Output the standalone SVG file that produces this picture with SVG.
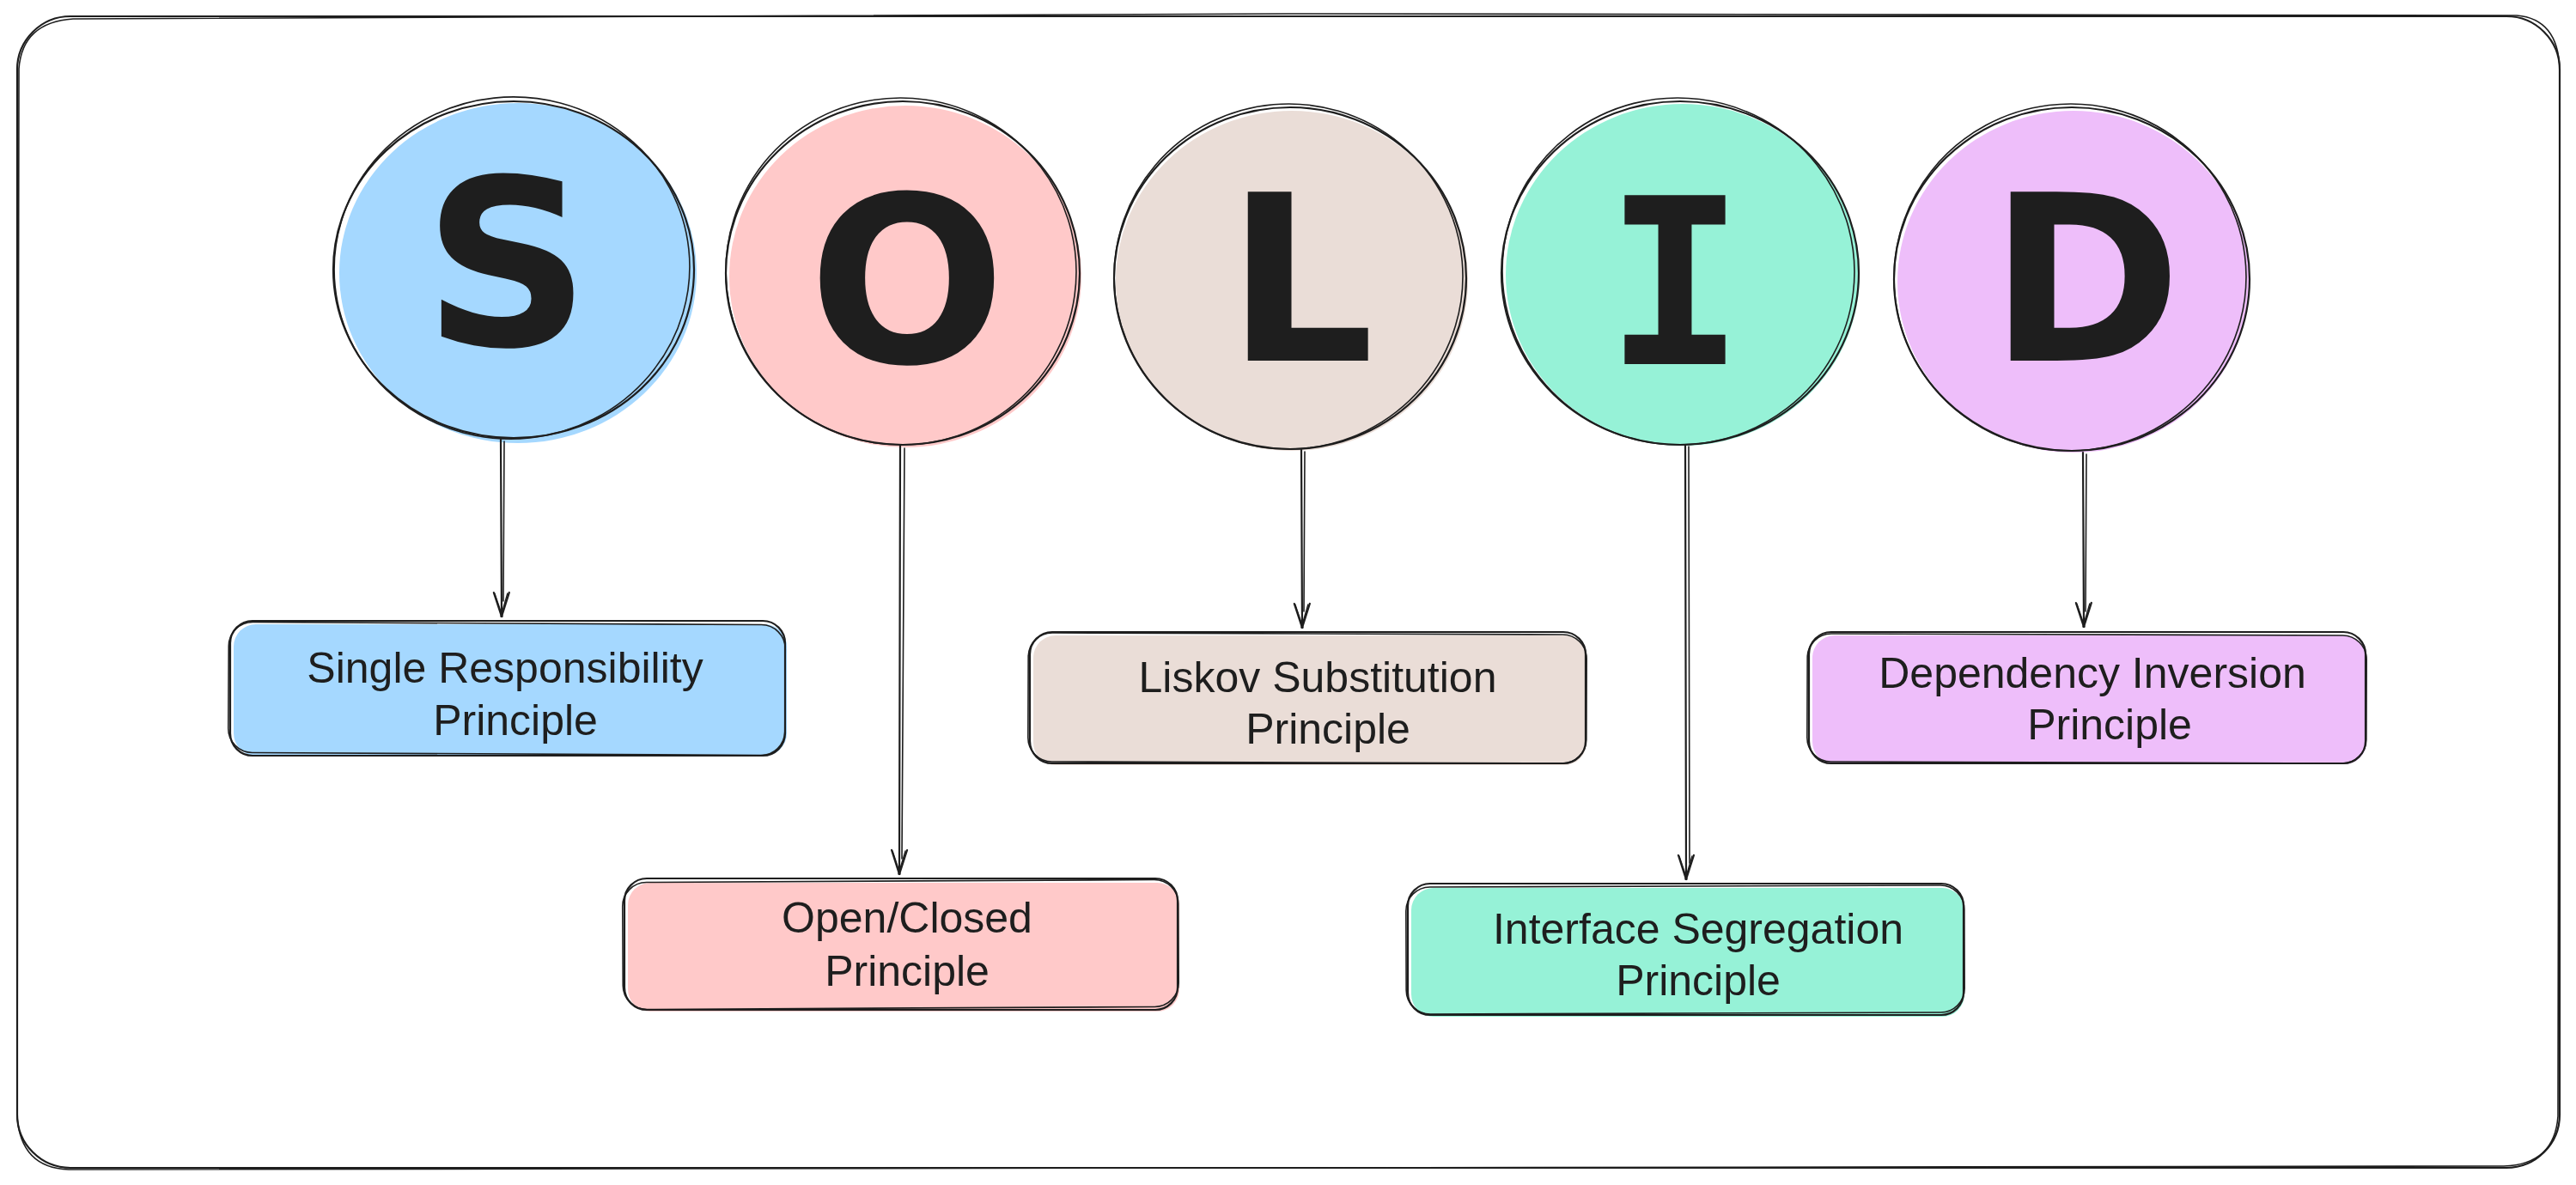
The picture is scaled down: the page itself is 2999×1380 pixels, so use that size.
<svg xmlns="http://www.w3.org/2000/svg" width="2999" height="1380" viewBox="0 0 2999 1380">
<style>
.sk{fill:none;stroke:#1e1e1e;stroke-width:2.2;stroke-linecap:round;stroke-linejoin:round}
.sk2{fill:none;stroke:#1e1e1e;stroke-width:1.6;stroke-linecap:round;stroke-linejoin:round}
.big{font-family:"DejaVu Sans",sans-serif;font-weight:bold;font-size:270px;fill:#1e1e1e;text-anchor:middle}
.mono{font-family:"DejaVu Sans Mono",monospace}
.lbl{font-family:"Liberation Sans",Arial,sans-serif;font-size:50px;fill:#1e1e1e;text-anchor:middle}
.blue{fill:#a5d8ff}.pink{fill:#ffc9c9}.sand{fill:#eaddd7}.teal{fill:#96f2d7}.violet{fill:#eebefa}
</style>
<defs>
<marker id="ah" markerUnits="userSpaceOnUse" markerWidth="40" markerHeight="30" refX="0" refY="0" viewBox="-30 -15 32 30" orient="auto" overflow="visible">
<path d="M -28 -9 L 0 0 L -28 9" fill="none" stroke="#1e1e1e" stroke-width="2.2" stroke-linecap="round" stroke-linejoin="round"/>
<path d="M -27 -7 L 0 1 M -27 8 L 0 -1" fill="none" stroke="#1e1e1e" stroke-width="1.4" stroke-linecap="round"/>
</marker>
</defs>
<rect width="2999" height="1380" fill="#ffffff"/>
<g id="frame">
<rect class="sk" x="20" y="19" width="2960" height="1341" rx="62"/>
<path class="sk2" d="M 22 80 Q 26 26 85 22 L 1500 16 L 2930 18 Q 2978 22 2980 80 L 2978 1300 Q 2974 1356 2915 1358 L 80 1362 Q 24 1360 20 1300 Z"/>
</g>
<g id="circle-s">
<ellipse class="blue" cx="603" cy="318" rx="208" ry="198"/>
<ellipse class="sk" cx="598" cy="314" rx="210" ry="196"/>
<ellipse class="sk2" cx="596" cy="312" rx="207" ry="199" transform="rotate(-6 596 312)"/>
<text class="big" x="590" y="402">S</text>
</g>
<g id="circle-o">
<ellipse class="pink" cx="1054" cy="322" rx="205" ry="199"/>
<ellipse class="sk" cx="1051" cy="318" rx="206" ry="200"/>
<ellipse class="sk2" cx="1049" cy="316" rx="204" ry="202" transform="rotate(8 1049 316)"/>
<text class="big" x="1056" y="422">O</text>
</g>
<g id="circle-l">
<ellipse class="sand" cx="1504" cy="327" rx="205" ry="198"/>
<ellipse class="sk" cx="1502" cy="324" rx="205" ry="199"/>
<ellipse class="sk2" cx="1500" cy="322" rx="203" ry="201" transform="rotate(-5 1500 322)"/>
<text class="big" x="1514" y="420">L</text>
</g>
<g id="circle-i">
<ellipse class="teal" cx="1959" cy="320" rx="206" ry="199"/>
<ellipse class="sk" cx="1956" cy="318" rx="208" ry="200"/>
<ellipse class="sk2" cx="1954" cy="316" rx="205" ry="202" transform="rotate(7 1954 316)"/>
<text class="big mono" x="1950" y="424">I</text>
</g>
<g id="circle-d">
<ellipse class="violet" cx="2414" cy="328" rx="205" ry="199"/>
<ellipse class="sk" cx="2412" cy="325" rx="207" ry="200"/>
<ellipse class="sk2" cx="2410" cy="323" rx="205" ry="202" transform="rotate(-7 2410 323)"/>
<text class="big" x="2428" y="420">D</text>
</g>
<g id="connectors">
<path class="sk" d="M 583 512 L 584 718" marker-end="url(#ah)"/>
<path class="sk2" d="M 587 514 L 586 700"/>
<path class="sk" d="M 1048 518 L 1047 1018" marker-end="url(#ah)"/>
<path class="sk2" d="M 1053 522 L 1050 1000"/>
<path class="sk" d="M 1515 524 L 1516 731" marker-end="url(#ah)"/>
<path class="sk2" d="M 1519 526 L 1518 712"/>
<path class="sk" d="M 1962 518 L 1963 1024" marker-end="url(#ah)"/>
<path class="sk2" d="M 1966 520 L 1967 1005"/>
<path class="sk" d="M 2425 527 L 2426 730" marker-end="url(#ah)"/>
<path class="sk2" d="M 2429 529 L 2428 712"/>
</g>
<g id="box-srp">
<rect class="blue" x="272" y="727" width="644" height="153" rx="26"/>
<rect class="sk" x="268" y="723" width="646" height="157" rx="26"/>
<rect class="sk2" x="266" y="726" width="648" height="152" rx="28" transform="rotate(0.3 590 800)"/>
<text class="lbl" x="588" y="795">Single Responsibility</text>
<text class="lbl" x="600" y="856">Principle</text>
</g>
<g id="box-ocp">
<rect class="pink" x="731" y="1028" width="642" height="150" rx="26"/>
<rect class="sk" x="727" y="1023" width="644" height="153" rx="26"/>
<rect class="sk2" x="725" y="1026" width="647" height="148" rx="28" transform="rotate(-0.3 1049 1100)"/>
<text class="lbl" x="1056" y="1086">Open/Closed</text>
<text class="lbl" x="1056" y="1148">Principle</text>
</g>
<g id="box-lsp">
<rect class="sand" x="1203" y="740" width="644" height="151" rx="26"/>
<rect class="sk" x="1199" y="736" width="647" height="153" rx="26"/>
<rect class="sk2" x="1197" y="738" width="650" height="150" rx="28" transform="rotate(0.2 1522 812)"/>
<text class="lbl" x="1534" y="806">Liskov Substitution</text>
<text class="lbl" x="1546" y="866">Principle</text>
</g>
<g id="box-isp">
<rect class="teal" x="1643" y="1034" width="644" height="150" rx="26"/>
<rect class="sk" x="1639" y="1029" width="647" height="153" rx="26"/>
<rect class="sk2" x="1637" y="1032" width="650" height="148" rx="28" transform="rotate(-0.2 1962 1105)"/>
<text class="lbl" x="1977" y="1099">Interface Segregation</text>
<text class="lbl" x="1977" y="1159">Principle</text>
</g>
<g id="box-dip">
<rect class="violet" x="2110" y="740" width="645" height="150" rx="26"/>
<rect class="sk" x="2106" y="736" width="648" height="153" rx="26"/>
<rect class="sk2" x="2104" y="739" width="651" height="149" rx="28" transform="rotate(0.2 2430 812)"/>
<text class="lbl" x="2436" y="801">Dependency Inversion</text>
<text class="lbl" x="2456" y="861">Principle</text>
</g>
</svg>
